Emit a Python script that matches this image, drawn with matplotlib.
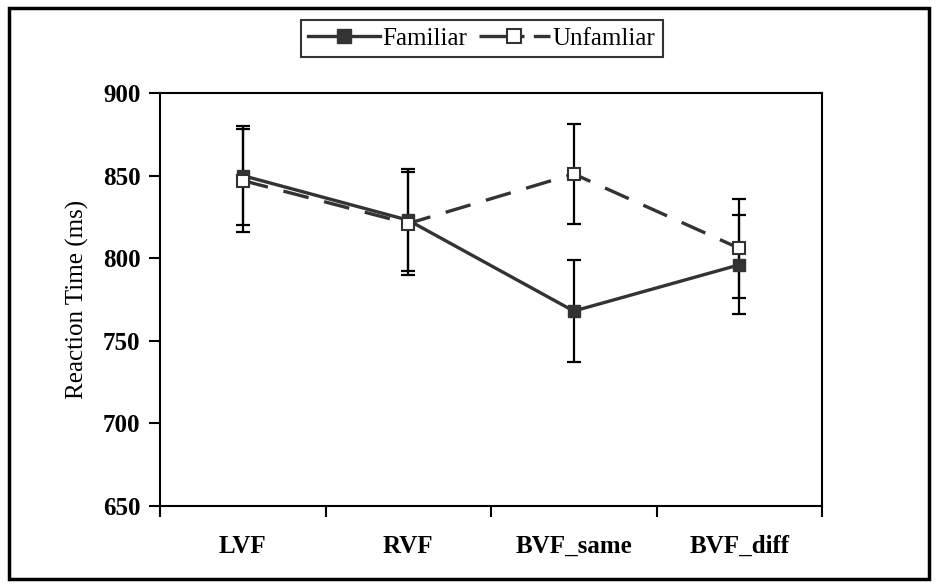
import numpy as np
import matplotlib
matplotlib.use('Agg')
from matplotlib import pyplot as plt
from matplotlib.patches import Rectangle
from matplotlib.lines import Line2D

# data
conditions = ['LVF', 'RVF', 'BVF_same', 'BVF_diff']
familiar = [850, 823, 768, 796]
familiar_err = [30, 31, 31, 30]
unfamiliar = [847, 821, 851, 806]
unfamiliar_err = [31, 31, 30, 30]

plt.rcParams['font.family'] = ['Liberation Serif', 'DejaVu Serif']

fig = plt.figure(figsize=(9.38, 5.88), dpi=100)
ax = fig.add_axes([160/938, 82/588, 662/938, 413/588])

x = np.arange(len(conditions)) + 0.5
dark = '#333333'

ax.errorbar(x, familiar, yerr=familiar_err, fmt='none', ecolor='black',
            elinewidth=1.6, capsize=5, capthick=1.6, zorder=2)
ax.errorbar(x, unfamiliar, yerr=unfamiliar_err, fmt='none', ecolor='black',
            elinewidth=1.6, capsize=5, capthick=1.6, zorder=2)

ax.plot(x, familiar, color=dark, lw=2.4, marker='s', ms=9,
        mfc=dark, mec=dark, zorder=3)
ax.plot(x, unfamiliar, color=dark, lw=2.4, ls=(0, (7.8, 4.8)), marker='s', ms=9,
        mfc='white', mec=dark, mew=1.5, zorder=3)

ax.set_xlim(0, 4)
ax.set_ylim(650, 900)
ax.set_yticks([650, 700, 750, 800, 850, 900])
ax.set_xticks([0, 1, 2, 3, 4])
ax.set_xticklabels([])
ax.set_xticks(x, minor=True)
ax.set_xticklabels(conditions, minor=True, fontsize=18, fontweight='bold')
ax.tick_params(axis='x', which='minor', length=0, pad=21)
ax.tick_params(axis='x', which='major', length=8, width=1.5, direction='out')
ax.tick_params(axis='y', length=8, width=1.5, direction='out', pad=6)
for t in ax.get_yticklabels():
    t.set_fontsize(18)
    t.set_fontweight('bold')
ax.set_ylabel('Reaction Time (ms)', fontsize=18, labelpad=10)
for s in ax.spines.values():
    s.set_linewidth(1.5)

# legend handles (dash pattern tuned so the gap sits right of the marker)
h_fam = Line2D([], [], color=dark, lw=2.4, marker='s', ms=9.5, mfc=dark, mec=dark)
h_unf = Line2D([], [], color=dark, lw=2.4, ls=(0, (13.5, 2.8)), marker='s', ms=9.5,
               mfc='white', mec=dark, mew=1.5)
leg = fig.legend([h_fam, h_unf], ['Familiar', 'Unfamliar'], loc='center',
                 bbox_to_anchor=(482/938, 1 - 38.5/588), ncol=2,
                 fontsize=18, frameon=True, fancybox=False, edgecolor='black',
                 handlelength=2.85, handletextpad=0.12, columnspacing=0.45,
                 borderpad=0.3, borderaxespad=0)
leg.get_frame().set_linewidth(1.5)

# outer border around the whole chart
fig.patches.append(Rectangle((9/938, 9/588), 920/938, 571/588, transform=fig.transFigure,
                             fill=False, edgecolor='black', lw=2.5))

fig.savefig('out.png', dpi=100)
